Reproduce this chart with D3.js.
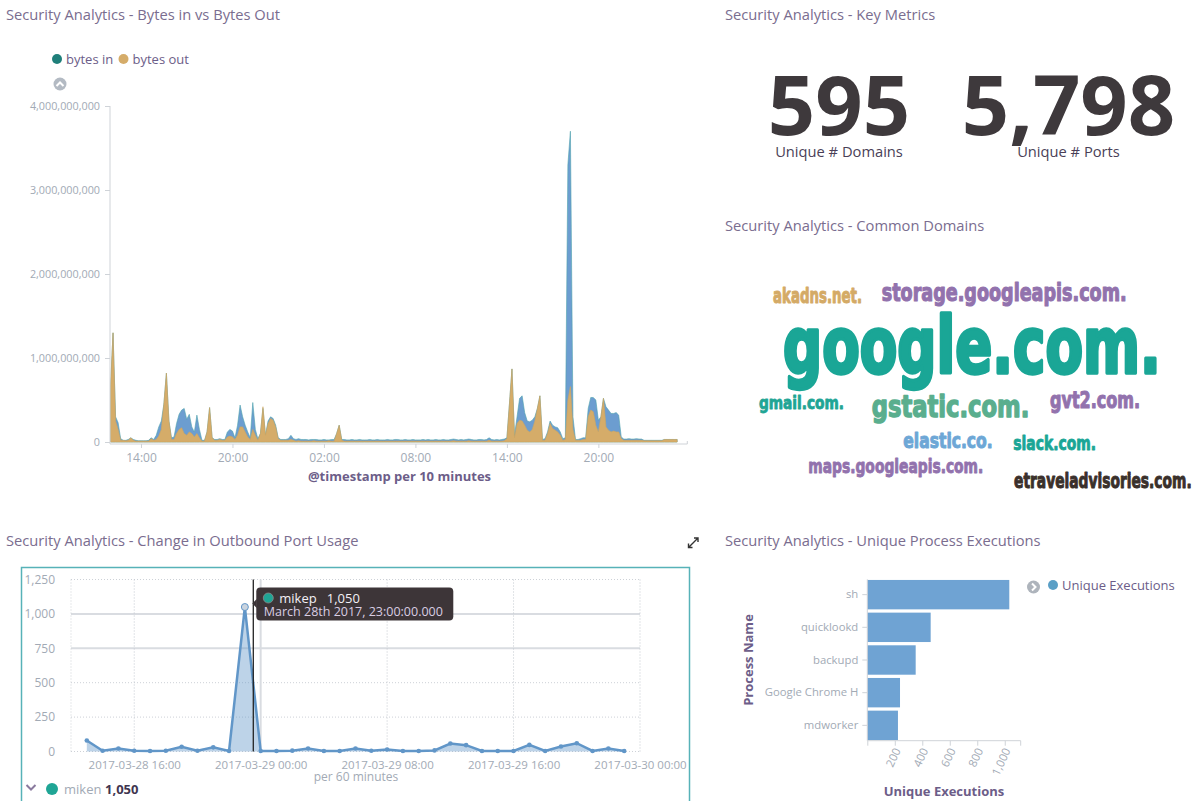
<!DOCTYPE html>
<html><head><meta charset="utf-8">
<script src="https://cdn.jsdelivr.net/npm/d3@7"></script>
<style>
body{margin:0;background:#fff;font-family:"Open Sans",sans-serif;}
svg{display:block}
</style></head><body>
<svg id="c" width="1203" height="801"></svg>
<script>
// ---------------- DATA ----------------
// Bytes in / bytes out, 10-minute buckets from 2017-03-28 12:00, values in MB
const bytesStart = "2017-03-28T12:00:00Z";
const bytesInMB = [
 650,1300,300,230,40,20,  20,30,50,30,20,15,  15,15,15,20,50,30,  80,180,250,450,820,250,
 50,60,220,330,380,400,  270,330,180,120,320,150,  20,20,120,410,50,30,  30,40,30,30,120,150,
 130,50,200,440,300,200,  120,50,470,150,40,100,  400,80,250,300,280,200,  50,30,30,30,40,80,
 40,30,40,30,30,30,  25,30,30,30,25,25,  30,25,25,30,30,100,  200,30,30,25,25,30,
 25,25,30,25,25,25,  30,25,25,30,25,25,  25,30,25,25,30,30,  25,25,30,25,25,30,
 25,25,25,30,25,30,  25,25,30,25,25,30,  25,25,30,35,30,25,  30,25,30,35,30,25,
 25,30,30,25,30,50,  30,25,30,25,30,35,  50,450,870,80,300,520,  550,350,250,240,260,300,
 400,550,30,40,120,250,  200,180,170,120,40,50,  3300,3700,300,30,30,40,  50,50,400,530,530,500,
 260,300,520,420,380,340,  340,350,320,60,35,35,  40,35,35,40,35,35,  20,20,20,20,20,20,
 20,20,30,30,30,30,  30,30
];
const bytesOutMB = [
 650,1300,250,150,20,20,  15,20,50,20,10,10,  10,10,10,10,40,20,  30,70,150,450,820,250,
 30,30,100,150,170,100,  80,120,100,60,100,50,  10,10,120,410,50,20,  20,30,20,20,60,70,
 60,30,80,180,180,120,  60,30,150,80,20,100,  420,80,220,280,260,180,  40,20,20,20,20,30,
 20,10,15,10,10,10,  10,10,15,10,10,10,  10,10,15,10,10,100,  200,20,10,10,10,10,
 10,10,10,10,10,10,  10,10,10,10,10,10,  10,10,10,10,10,10,  10,10,10,10,10,10,
 10,10,10,10,10,10,  10,10,10,10,10,10,  10,10,10,15,10,10,  10,10,10,15,10,10,
 10,10,10,10,10,20,  10,10,10,10,10,15,  40,450,870,50,220,260,  250,200,140,120,150,250,
 400,550,20,20,100,220,  160,140,120,80,20,30,  500,660,150,20,20,20,  30,30,300,380,360,200,
 120,300,520,180,140,120,  130,120,120,40,20,20,  20,20,20,20,20,20,  15,15,15,15,15,15,
 15,15,30,30,30,30,  30,30
];
const bytesDomainEnd = "2017-03-30T01:50:00Z";
const bytesTicks = ["2017-03-28T14:00:00Z","2017-03-28T20:00:00Z","2017-03-29T02:00:00Z","2017-03-29T08:00:00Z","2017-03-29T14:00:00Z","2017-03-29T20:00:00Z"];
const bytesYTicks = [0,1e9,2e9,3e9,4e9];
const bytesSeries = ["bytes in","bytes out"];

// Key metrics
const metricValues = [595, 5798];
const metricLabels = ["Unique # Domains","Unique # Ports"];

// Common domains (tag cloud)
const domainWords = ["akadns.net.","storage.googleapis.com.","google.com.","gmail.com.","gstatic.com.","gvt2.com.","elastic.co.","slack.com.","maps.googleapis.com.","etraveladvisories.com."];
const domainCounts = [27,31,100,22,38,29,27,25,25,27];

// Outbound port usage, hourly from 2017-03-28 13:00
const portStart = "2017-03-28T13:00:00Z";
const portCounts = [80,5,22,5,4,5,35,5,30,4,1050,4,4,6,22,4,4,22,5,15,4,4,8,58,46,4,4,4,48,4,36,60,4,22,4];
const portDomain = ["2017-03-28T12:00:00Z","2017-03-30T00:00:00Z"];
const portTicks = ["2017-03-28T16:00:00Z","2017-03-29T00:00:00Z","2017-03-29T08:00:00Z","2017-03-29T16:00:00Z","2017-03-30T00:00:00Z"];
const portYTicks = [0,250,500,750,1000,1250];
const portHover = {term:"mikep", value:1050, time:"2017-03-28T23:00:00Z", cursor:"2017-03-28T23:32:00Z"};
const portLegend = {term:"miken", value:1050};

// Unique process executions
const processNames = ["sh","quicklookd","backupd","Google Chrome H","mdworker"];
const processCounts = [1033,461,352,238,223];
const processTicks = [200,400,600,800,1000];

// ---------------- STYLE ----------------
const C = {
  title:"#7a6d8f", axisText:"#a2aab5", axisLine:"#cfd3d8", axisTitle:"#6c5d88",
  bin:"#6c9dd0", binStroke:"#4fa2ad", bout:"#d5ac69",
  metric:"#3e393c", metricLabel:"#4a3f57",
  port:"#6196c8"
};
const svg = d3.select("#c");
const T = (x,y,txt,o={})=>{
  const t = svg.append("text").attr("x",x).attr("y",y).text(txt)
    .attr("font-size",o.size||14.7).attr("fill",o.fill||C.title)
    .attr("font-weight",o.weight||400).attr("text-anchor",o.anchor||"start");
  if(o.family) t.attr("font-family",o.family);
  return t;
};

// Titles
T(6,20,"Security Analytics - Bytes in vs Bytes Out");
T(725,20,"Security Analytics - Key Metrics");
T(725,231,"Security Analytics - Common Domains");
T(6,546,"Security Analytics - Change in Outbound Port Usage");
T(725,546,"Security Analytics - Unique Process Executions");

// ---------------- CHART 1: bytes ----------------
{
  const t0 = d3.isoParse(bytesStart);
  const data = bytesInMB.map((v,i)=>({t:d3.timeMinute.offset(t0,i*10), vin:v*1e6, vout:bytesOutMB[i]*1e6}));
  const x = d3.scaleUtc().domain([t0, d3.isoParse(bytesDomainEnd)]).range([110.5, 687.3]);
  const y = d3.scaleLinear().domain([0,4e9]).range([442,106]);
  const g = svg.append("g");
  g.append("path").datum(data)
    .attr("d", d3.area().x(d=>x(d.t)).y0(y(0)).y1(d=>y(d.vin)))
    .attr("fill",C.bin).attr("stroke",C.binStroke).attr("stroke-width",0.6);
  g.append("path").datum(data)
    .attr("d", d3.area().x(d=>x(d.t)).y0(y(0)).y1(d=>y(d.vout)))
    .attr("fill",C.bout).attr("stroke","#cfa660").attr("stroke-width",0.6);
  // y axis
  const ya = svg.append("g").attr("transform","translate(110,0)")
    .call(d3.axisLeft(y).tickValues(bytesYTicks).tickFormat(d3.format(",")).tickSize(5).tickPadding(5));
  ya.select(".domain").attr("stroke",C.axisLine).attr("d","M0,106V444");
  ya.selectAll(".tick line").attr("stroke",C.axisLine);
  ya.selectAll("text").attr("fill",C.axisText).attr("font-size",10.8).attr("font-family","Open Sans");
  // x axis
  const xa = svg.append("g").attr("transform","translate(0,444)")
    .call(d3.axisBottom(x).tickValues(bytesTicks.map(d3.isoParse)).tickFormat(d3.utcFormat("%H:%M")).tickSize(4).tickPadding(5));
  xa.select(".domain").attr("stroke",C.axisLine).attr("d","M110,0H687.3V-3");
  xa.selectAll(".tick line").attr("stroke",C.axisLine);
  xa.selectAll("text").attr("fill",C.axisText).attr("font-size",12).attr("font-family","Open Sans");
  T(399.5,481,"@timestamp per 10 minutes",{size:13,weight:700,fill:C.axisTitle,anchor:"middle"});
  // legend
  const lx=[57,123.5], cols=["#1f7f7a",C.bout];
  bytesSeries.forEach((s,i)=>{
    svg.append("circle").attr("cx",lx[i]).attr("cy",59).attr("r",5).attr("fill",cols[i]);
    T(lx[i]+9,63.5,s,{size:13,fill:C.axisTitle});
  });
  svg.append("circle").attr("cx",60).attr("cy",84).attr("r",6.5).attr("fill","#b3bac3");
  svg.append("path").attr("d","M56.5,86L60,82.5L63.5,86").attr("fill","none").attr("stroke","#fff").attr("stroke-width",2);
}

// ---------------- KEY METRICS ----------------
{
  const cx=[839,1068.5];
  metricValues.forEach((v,i)=>{
    T(cx[i],135,d3.format(",")(v),{size:83,weight:700,fill:C.metric,anchor:"middle"});
    T(cx[i],157,metricLabels[i],{size:14.7,fill:C.metricLabel,anchor:"middle"});
  });
}

// ---------------- TAG CLOUD ----------------
{
  const size = d3.scaleLinear().domain([0,100]).range([0,77.6]);
  const colors = ["#d4aa66","#9272ad","#1aa696","#1fa595","#5aae8e","#9272ad","#6da7d6","#1aa696","#9272ad","#3a302b"];
  // positions produced by the cloud's layout pass
  const layout = [[773,302.5,89],[881.7,301,245],[783,373.3,377.7],[759,409.3,85],[871.7,416.7,157.6],
                  [1050,408.3,90],[903.3,447.7,89.4],[1013.3,450,82.7],[808.3,473.3,175],[1014,488.3,177.7]];
  domainWords.forEach((w,i)=>{
    const s = size(domainCounts[i]);
    T(layout[i][0],layout[i][1],w,{size:s,weight:700,fill:colors[i],
      family:"'Liberation Sans Narrow','DejaVu Sans Condensed',sans-serif"})
      .attr("textLength",layout[i][2]).attr("lengthAdjust","spacingAndGlyphs")
      .attr("stroke",colors[i]).attr("stroke-width",s*0.045).attr("stroke-linejoin","round");
  });
}

// ---------------- CHART 3: outbound ports ----------------
{
  const t0 = d3.isoParse(portStart);
  const data = portCounts.map((v,i)=>({t:d3.timeHour.offset(t0,i), v}));
  const x = d3.scaleUtc().domain(portDomain.map(d3.isoParse)).range([71,640]);
  const y = d3.scaleLinear().domain([0,1250]).range([751.5,579.5]);
  // panel border
  svg.append("rect").attr("x",21.5).attr("y",567.5).attr("width",668).attr("height",260)
    .attr("fill","none").attr("stroke","#57b2b8").attr("stroke-width",1.5);
  // grid
  const grid = svg.append("g");
  portYTicks.forEach(v=>{
    const solid = (v===1000||v===750);
    grid.append("line").attr("x1",71).attr("x2",640).attr("y1",y(v)).attr("y2",y(v))
      .attr("stroke",solid?"#d9dce1":"#cdd1d7").attr("stroke-width",solid?2:1)
      .attr("stroke-dasharray",solid?null:"1,2");
  });
  grid.append("line").attr("x1",71).attr("x2",71).attr("y1",579.5).attr("y2",751.5).attr("stroke","#cdd1d7").attr("stroke-dasharray","1,2");
  portTicks.forEach((d,i)=>{
    const xx = x(d3.isoParse(d));
    grid.append("line").attr("x1",xx).attr("x2",xx).attr("y1",579.5).attr("y2",751.5)
      .attr("stroke",i===1?"#d9dce1":"#c3c8cf").attr("stroke-width",i===1?2:1).attr("stroke-dasharray",i===1?null:"1,2");
  });
  svg.append("path").datum(data)
    .attr("d", d3.area().x(d=>x(d.t)).y0(y(0)).y1(d=>y(d.v)))
    .attr("fill",C.port).attr("fill-opacity",0.42);
  svg.append("path").datum(data)
    .attr("d", d3.line().x(d=>x(d.t)).y(d=>y(d.v)))
    .attr("fill","none").attr("stroke",C.port).attr("stroke-width",2.5);
  svg.selectAll("circle.pt").data(data).join("circle").attr("class","pt")
    .attr("cx",d=>x(d.t)).attr("cy",d=>y(d.v)).attr("r",2.3).attr("fill",C.port);
  const ht = d3.isoParse(portHover.time);
  svg.append("circle").attr("cx",x(ht)).attr("cy",y(portHover.value)).attr("r",3.5)
    .attr("fill","#c9d3de").attr("stroke",C.port).attr("stroke-width",1);
  // axes
  const ya = svg.append("g").attr("transform","translate(71,0)")
    .call(d3.axisLeft(y).tickValues(portYTicks).tickFormat(d3.format(",")).tickSize(0).tickPadding(16));
  ya.select(".domain").remove();
  ya.selectAll("text").attr("fill",C.axisText).attr("font-size",12).attr("font-family","Open Sans");
  const xa = svg.append("g").attr("transform","translate(0,751.5)")
    .call(d3.axisBottom(x).tickValues(portTicks.map(d3.isoParse)).tickFormat(d3.utcFormat("%Y-%m-%d %H:%M")).tickSize(0).tickPadding(9));
  xa.select(".domain").remove();
  xa.selectAll("text").attr("fill",C.axisText).attr("font-size",11.5).attr("font-family","Open Sans");
  T(356,781,"per 60 minutes",{size:12,fill:C.axisText,anchor:"middle"});
  // crosshair
  const cx = x(d3.isoParse(portHover.cursor));
  svg.append("line").attr("x1",cx).attr("x2",cx).attr("y1",579.5).attr("y2",751.5).attr("stroke","#222").attr("stroke-width",1.3);
  // tooltip
  const tg = svg.append("g");
  tg.append("rect").attr("x",cx+3).attr("y",587.5).attr("width",197).attr("height",33).attr("rx",4).attr("fill","#3d3538");
  tg.append("path").attr("d",`M${cx-1},603.5L${cx+3.5},599L${cx+3.5},608Z`).attr("fill","#3d3538");
  tg.append("circle").attr("cx",cx+15).attr("cy",598).attr("r",5).attr("fill","#1fa595").attr("stroke","#8e8a8c").attr("stroke-width",0.8);
  T(cx+26,602.5,portHover.term,{size:13,fill:"#f4f0f6"});
  T(cx+73.5,602.5,d3.format(",")(portHover.value),{size:13,fill:"#f4f0f6"});
  T(cx+10.5,615.5,"March 28th 2017, 23:00:00.000",{size:12.5,fill:"#d9cde2"});
  // legend
  svg.append("path").attr("d","M26.5,785L31,789.5L35.5,785").attr("fill","none").attr("stroke","#8a7a9e").attr("stroke-width",2);
  svg.append("circle").attr("cx",52).attr("cy",789).attr("r",6).attr("fill","#1fa595");
  T(64,793.5,portLegend.term,{size:13,fill:C.axisText});
  T(105,793.5,d3.format(",")(portLegend.value),{size:13,fill:"#3f3550",weight:700});
  // expand icon
  svg.append("path").attr("d","M688.5,547.5L698,538M694,538H698V542M688.5,543.5V547.5H692.5")
    .attr("fill","none").attr("stroke","#333").attr("stroke-width",1.4);
}

// ---------------- CHART 4: processes ----------------
{
  const y = d3.scaleBand().domain(processNames).range([579.3,740.7]).paddingInner(0.1).paddingOuter(0.02);
  const x = d3.scaleLinear().domain([0,1116]).range([867.3,1020.7]);
  svg.selectAll("rect.bar").data(processNames).join("rect").attr("class","bar")
    .attr("x",x(0)).attr("y",d=>y(d)).attr("height",y.bandwidth())
    .attr("width",(d,i)=>x(processCounts[i])-x(0)).attr("fill","#6fa3d3");
  const ya = svg.append("g").attr("transform","translate(867.3,0)")
    .call(d3.axisLeft(y).tickSize(5).tickPadding(4));
  ya.select(".domain").attr("stroke",C.axisLine).attr("d","M0,579.3V740.7");
  ya.selectAll(".tick line").attr("stroke",C.axisLine);
  ya.selectAll("text").attr("fill",C.axisText).attr("font-size",11.3).attr("font-family","Open Sans");
  const xa = svg.append("g").attr("transform","translate(0,740.7)")
    .call(d3.axisBottom(x).tickValues([0].concat(processTicks)).tickFormat(d=>d===0?"":d3.format(",")(d)).tickSize(5).tickPadding(3));
  xa.select(".domain").attr("stroke",C.axisLine).attr("d","M867.3,0H1020.7V5");
  xa.selectAll(".tick line").attr("stroke",C.axisLine);
  xa.selectAll("text").attr("fill",C.axisText).attr("font-size",11.3).attr("font-family","Open Sans")
    .attr("text-anchor","end").attr("transform","translate(2,8) rotate(-65)").attr("dy","0.35em").attr("y",0);
  T(0,0,"Process Name",{size:13,weight:700,fill:C.axisTitle,anchor:"middle"})
    .attr("transform","translate(752.5,660) rotate(-90)");
  T(944,796,"Unique Executions",{size:13,weight:700,fill:C.axisTitle,anchor:"middle"});
  svg.append("circle").attr("cx",1033.5).attr("cy",587).attr("r",6.5).attr("fill","#aeb4bc");
  svg.append("path").attr("d","M1032,583.5L1035.5,587L1032,590.5").attr("fill","none").attr("stroke","#fff").attr("stroke-width",2);
  svg.append("circle").attr("cx",1053).attr("cy",585).attr("r",5).attr("fill","#5a9fc6");
  T(1062,589.5,"Unique Executions",{size:13,fill:C.axisTitle});
}
</script></body></html>
